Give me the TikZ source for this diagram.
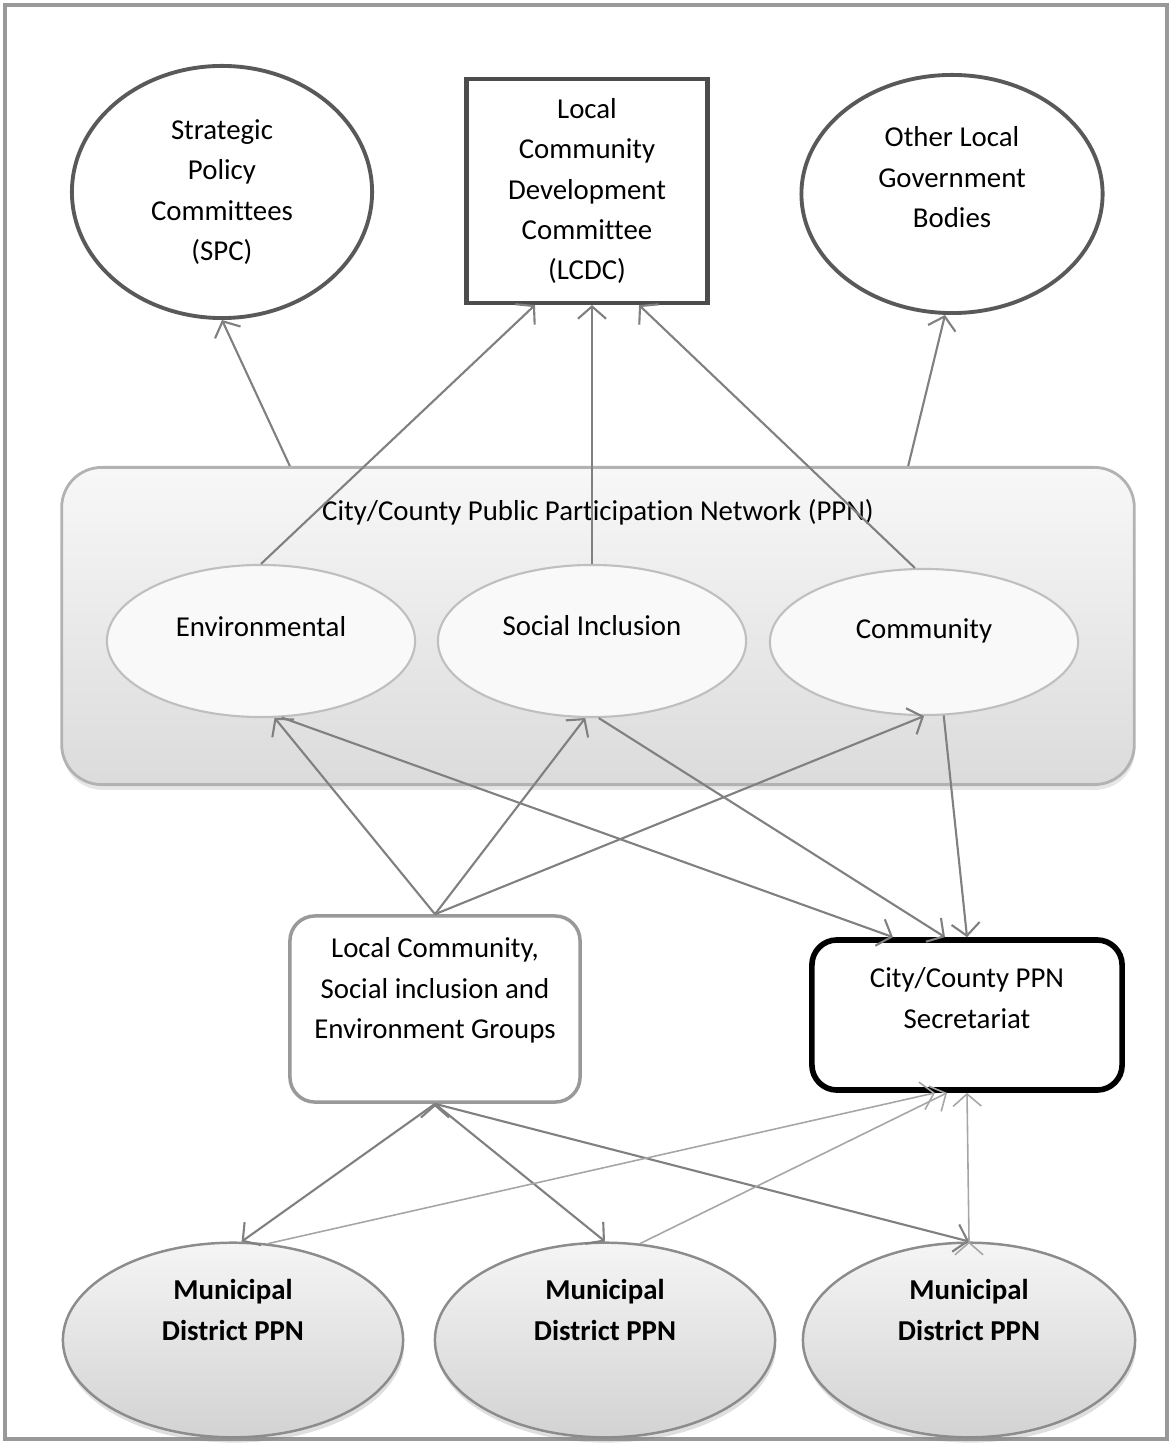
\documentclass[tikz,border=0pt]{standalone}
\usepackage{fontspec}
\setmainfont{Carlito}[Ligatures=NoCommon]
\usepackage{tikz}
\usetikzlibrary{arrows.meta,shapes.geometric,shadows,calc}

% text block, lifted above the middle of its node by half of #1
\newcommand{\liftby}[2]{\raisebox{0pt}[\height][\dimexpr\depth+#1\relax]{\begin{tabular}{@{}c@{}}#2\end{tabular}}}

\begin{document}
\begin{tikzpicture}[x=0.01cm, y=-0.01cm,
    font=\fontsize{8.2}{11.4}\selectfont,
    link/.style={-{Straight Barb[length=3.5pt,width=8pt]}, draw=black!50, line width=0.6pt},
    thinlink/.style={-{Straight Barb[length=3.5pt,width=8pt]}, draw=black!35, line width=0.45pt},
    topoval/.style={ellipse, draw=black!65, line width=1.1pt, fill=white, inner sep=0pt},
    ppnbox/.style={rectangle, rounded corners=0.4cm, draw=black!30, line width=0.8pt,
      top color=gray!6, bottom color=gray!28,
      drop shadow={opacity=0.2, shadow xshift=0.2pt, shadow yshift=-1.5pt}},
    strand/.style={ellipse, draw=black!25, line width=0.6pt, fill=gray!5, inner sep=0pt,
      minimum width=3.08cm, minimum height=1.52cm},
    groupbox/.style={rectangle, rounded corners=0.25cm, draw=black!40, line width=1pt, fill=white},
    secbox/.style={rectangle, rounded corners=0.25cm, draw=black, line width=1.6pt, fill=white},
    mdoval/.style={ellipse, draw=black!45, line width=0.7pt, top color=gray!8, bottom color=gray!35,
      drop shadow={opacity=0.25, shadow xshift=0.3pt, shadow yshift=-1.5pt},
      inner sep=0pt, minimum width=3.4cm, minimum height=1.56cm,
      font=\fontsize{8.2}{11.6}\selectfont\bfseries}]

  \useasboundingbox (0,0) rectangle (1172,1443);
  \draw[black!40, line width=1.2pt] (5,5) rectangle (1167,1439);

  %bodies above the network
  \node[topoval, minimum width=3cm, minimum height=2.52cm] (spc) at (222,192)
    {\liftby{0pt}{Strategic\\Policy\\Committees\\(SPC)}};
  \node[rectangle, draw=black!70, line width=1.2pt, fill=white, minimum width=2.41cm, minimum height=2.18cm] (lcdc) at (587,191)
    {\liftby{0pt}{Local\\Community\\Development\\Committee\\(LCDC)}};
  \node[topoval, minimum width=3.01cm, minimum height=2.38cm] (olg) at (952,194)
    {\liftby{0.3cm}{Other Local\\Government\\Bodies}};

  %network and its three strands
  \node[ppnbox, minimum width=10.72cm, minimum height=3.17cm] (ppn) at (598,626)
    {\liftby{2.26cm}{City/County Public Participation Network (PPN)}};
  \node[strand] (env) at (261,641) {\liftby{0.26cm}{Environmental}};
  \node[strand] (si) at (592,641) {\liftby{0.28cm}{Social Inclusion}};
  \node[strand, minimum height=1.46cm] (com) at (924,642) {\liftby{0.24cm}{Community}};

  %groups and secretariat
  \node[groupbox, minimum width=2.9cm, minimum height=1.86cm] (grp) at (435,1009)
    {\liftby{0.38cm}{Local Community,\\Social inclusion and\\Environment Groups}};
  \node[secbox, minimum width=3.1cm, minimum height=1.5cm] (sec) at (967,1015)
    {\liftby{0.3cm}{City/County PPN\\Secretariat}};

  %municipal districts
  \node[mdoval] (md1) at (233,1340) {\liftby{0.56cm}{Municipal\\District PPN}};
  \node[mdoval] (md2) at (605,1340) {\liftby{0.56cm}{Municipal\\District PPN}};
  \node[mdoval, minimum width=3.32cm] (md3) at (969,1340) {\liftby{0.56cm}{Municipal\\District PPN}};

  \path[link]
    ([xshift=-3.08cm]ppn.north) edge (spc.south)
    ([xshift=3.10cm]ppn.north) edge ([xshift=-0.07cm]olg.south)

    %strands up to the LCDC
    (env.north) edge ([xshift=-0.52cm]lcdc.south)
    (si.north) edge (si.north |- lcdc.south)
    (com.97) edge ([xshift=0.52cm]lcdc.south)

    %groups up to the strands
    (grp.north) edge (env.-80)
                edge (si.-95)
                edge (com.south)
    %strands down to the secretariat
    (env.-75) edge ([xshift=-0.74cm]sec.north)
    (si.-85) edge ([xshift=-0.22cm]sec.north)
    (com.-75) edge (sec.north)

    %groups down to the districts
    (grp.south) edge (md1.85)
                edge (md2.north)
                edge (md3.north);

  \path[thinlink]
    (md1.70) edge ([xshift=-0.32cm]sec.south)
    (md2.70) edge ([xshift=-0.2cm]sec.south)
    (md3.north) edge (sec.south);
\end{tikzpicture}
\end{document}
